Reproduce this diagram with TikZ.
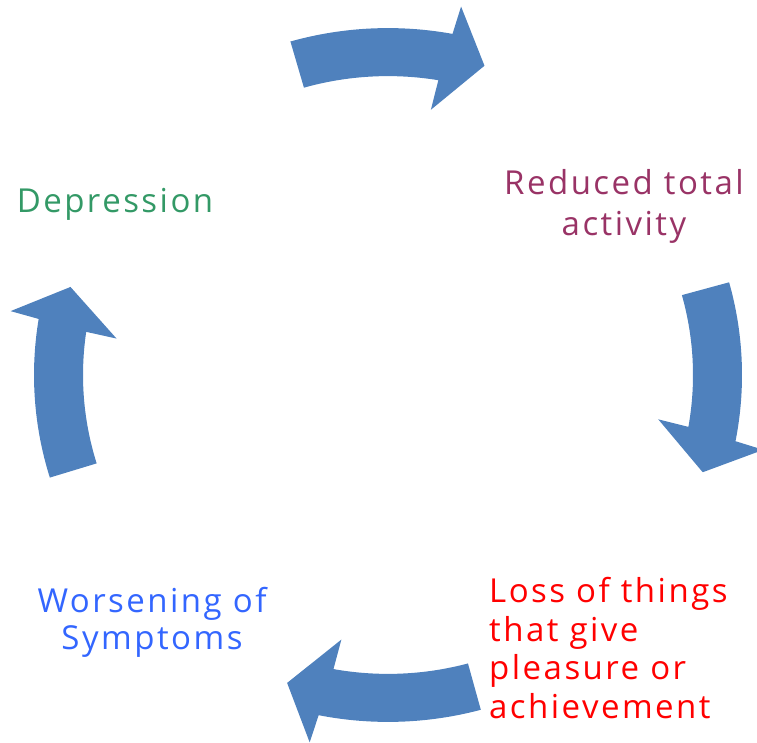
\documentclass[tikz,border=0pt]{standalone}
\usepackage{fontspec}
\setmainfont{Open Sans}[LetterSpace=7.5]
\definecolor{arrowblue}{RGB}{79,129,189}
\definecolor{depgreen}{RGB}{51,153,102}
\definecolor{redmaroon}{RGB}{153,51,102}
\definecolor{symblue}{RGB}{51,102,255}
\definecolor{lossred}{RGB}{255,0,0}
\tikzset{
  label text/.style={inner sep=0pt, font=\fontsize{33}{39}\selectfont},
}
\begin{document}
\begin{tikzpicture}[x=1pt,y=1pt]
\useasboundingbox (0,0) rectangle (757,-743);

% four curved block arrows around the cycle
\begin{scope}[shift={(388,-375)}, yscale=0.98]
  \foreach \t/\nm in {106/atop, 15.5/aright, -74.8/abottom, 197.2/aleft}{
    \fill[arrowblue] (\t:354) arc[start angle=\t, end angle=\t-26.5, radius=354pt]
      -- (\t-27:383) -- (\t-33:330) -- (\t-25:274) -- (\t-25.5:305)
      arc[start angle=\t-25.5, end angle=\t, radius=305pt] -- cycle;
  }
\end{scope}

% stage labels
\node[label text, text=depgreen, anchor=base] (dep) at (115,-213) {Depression};
\node[label text, text=redmaroon, align=center, anchor=north,
      font=\fontsize{33}{41}\selectfont] (red) at (624,-169) {Reduced total\\activity};
\node[label text, text=lossred, align=left, anchor=north west,
      font=\fontsize{33}{38.7}\selectfont] (loss) at (489,-577) {Loss of things\\that give\\pleasure or\\achievement};
\node[label text, text=symblue, align=center, anchor=north,
      font=\fontsize{33}{37}\selectfont] (wor) at (152,-587) {Worsening of\\Symptoms};
\end{tikzpicture}
\end{document}
